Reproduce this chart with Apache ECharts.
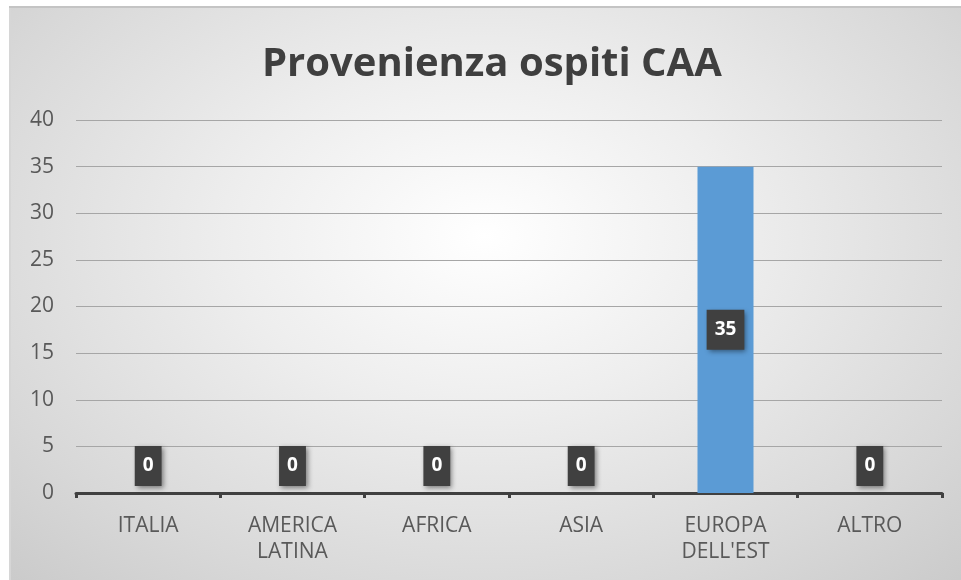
<!DOCTYPE html>
<html>
<head>
<meta charset="utf-8">
<script src="https://cdn.jsdelivr.net/npm/echarts@6/dist/echarts.min.js"></script>
<style>
html,body{margin:0;padding:0;background:#ffffff;width:961px;height:580px;overflow:hidden;}
#frame{position:absolute;left:9px;top:6px;width:952px;height:574px;
background:radial-gradient(ellipse 75% 85% at 50% 40%, #ffffff 0%, #eeeeee 35%, #d8d8d8 75%, #c9c9c9 100%);
box-shadow: inset 0 2px 0 #c4c4c4, inset 2px 0 0 #d6d6d6;}
#chart{position:absolute;left:0;top:0;width:952px;height:574px;}
</style>
</head>
<body>
<div id="frame"><div id="chart"></div></div>
<script>
var titleText = "Provenienza ospiti CAA";
var categories = ["ITALIA", "AMERICA\nLATINA", "AFRICA", "ASIA", "EUROPA\nDELL'EST", "ALTRO"];
var values = [0, 0, 0, 0, 35, 0];
var yTicks = [0, 5, 10, 15, 20, 25, 30, 35, 40];

var chart = echarts.init(document.getElementById('chart'), null, {renderer: 'canvas'});
var labelBase = {
  show: true,
  color: '#ffffff',
  fontFamily: 'Open Sans',
  fontWeight: 'bold',
  fontSize: 19,
  lineHeight: 20,
  backgroundColor: '#404040',
  padding: [10, 8, 10, 8],
  shadowColor: 'rgba(0,0,0,0.45)',
  shadowBlur: 5,
  shadowOffsetX: 2,
  shadowOffsetY: 2
};
var data = values.map(function (v) {
  return {
    value: v,
    label: v > 0 ? {position: 'inside'} : {position: 'top', distance: 7}
  };
});
chart.setOption({
  animation: false,
  backgroundColor: 'transparent',
  title: {
    text: titleText,
    left: 248,
    top: 34,
    textStyle: {fontFamily: 'Open Sans', fontWeight: 'bold', fontSize: 40, color: '#3f3f3f'}
  },
  grid: {left: 67, right: 19, top: 114, bottom: 87, containLabel: false},
  xAxis: {
    type: 'category',
    data: categories,
    axisLine: {show: true, lineStyle: {color: '#404040', width: 3}},
    axisTick: {show: true, length: 5, lineStyle: {color: '#404040', width: 3}},
    axisLabel: {color: '#595959', fontFamily: 'Open Sans', fontSize: 21, lineHeight: 26, margin: 20}
  },
  yAxis: {
    type: 'value',
    min: yTicks[0],
    max: yTicks[yTicks.length - 1],
    interval: 5,
    axisLine: {show: false},
    axisTick: {show: false},
    splitLine: {lineStyle: {color: '#a6a6a6', width: 1}},
    axisLabel: {color: '#595959', fontFamily: 'Open Sans', fontSize: 21, margin: 22}
  },
  series: [{
    type: 'bar',
    data: data,
    barWidth: 56,
    itemStyle: {color: '#5b9bd5'},
    label: labelBase
  }]
});
</script>
</body>
</html>
